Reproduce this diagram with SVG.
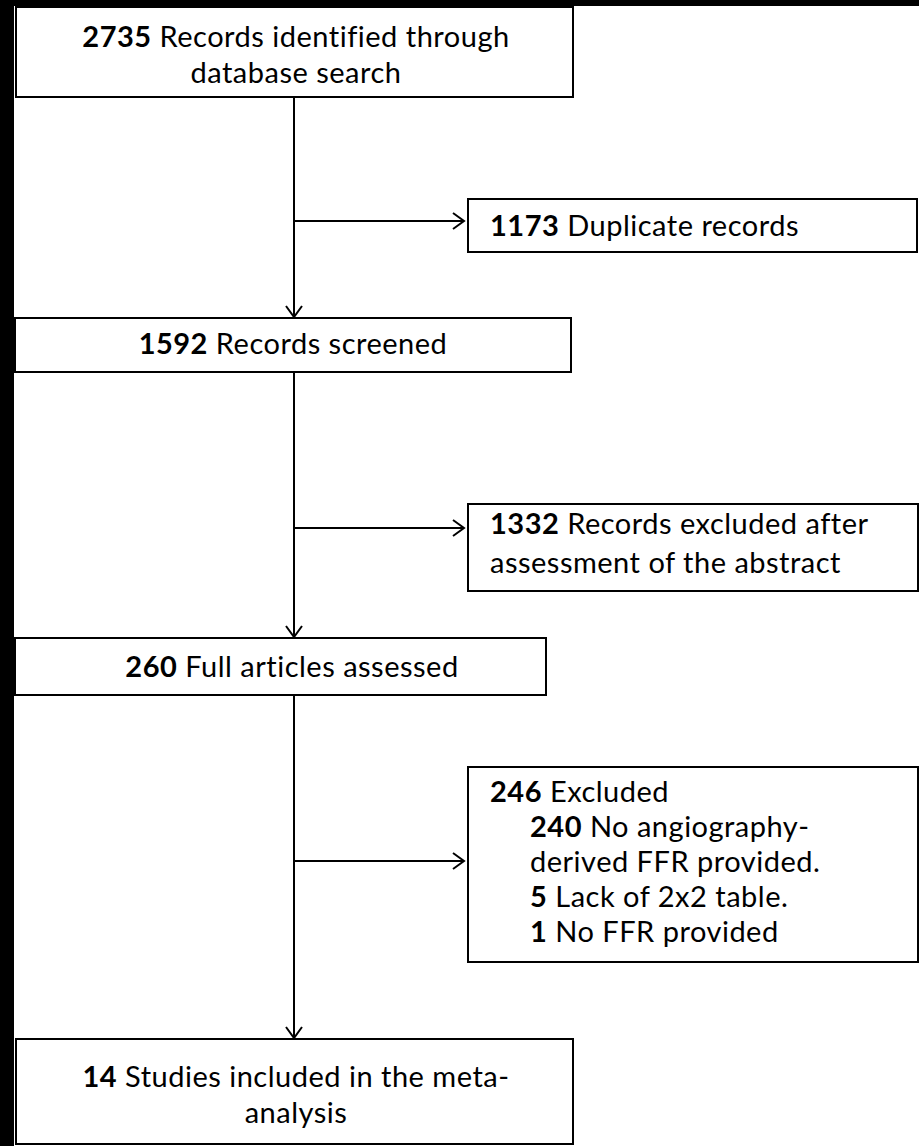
<svg xmlns="http://www.w3.org/2000/svg" width="919" height="1146" viewBox="0 0 919 1146">
<style>
.bg{fill:#fff}
.strip{fill:#000}
.box{fill:#fff;stroke:#000;stroke-width:2}
.t{font-family:Lato,"Liberation Sans",sans-serif;font-size:29px;fill:#000;letter-spacing:0.5px}
.b{font-weight:bold}
.c{stroke:#000;stroke-width:2;fill:none}
</style>
<defs>
<marker id="ah" markerWidth="14" markerHeight="20" refX="12" refY="10" orient="auto" markerUnits="userSpaceOnUse">
<path d="M1,2 L12,10 L1,18" fill="none" stroke="#000" stroke-width="2"/>
</marker>
</defs>
<rect class="bg" x="0" y="0" width="919" height="1146"/>
<rect class="strip" x="0" y="0" width="919" height="6"/>
<rect class="strip" x="0" y="0" width="14" height="1146"/>
<g id="connectors">
<path class="c" d="M294,97 V317" marker-end="url(#ah)"/>
<path class="c" d="M294,221 H464" marker-end="url(#ah)"/>
<path class="c" d="M294,372 V637" marker-end="url(#ah)"/>
<path class="c" d="M294,528 H464" marker-end="url(#ah)"/>
<path class="c" d="M294,695 V1038" marker-end="url(#ah)"/>
<path class="c" d="M294,861 H464" marker-end="url(#ah)"/>
</g>
<g id="n1">
<rect class="box" x="16" y="7" width="557" height="90"/>
<text class="t" x="296" y="47" text-anchor="middle"><tspan class="b">2735</tspan> Records identified through</text>
<text class="t" x="296" y="83" text-anchor="middle">database search</text>
</g>
<g id="n2">
<rect class="box" x="468" y="199" width="449" height="53"/>
<text class="t" x="490" y="236"><tspan class="b">1173</tspan> Duplicate records</text>
</g>
<g id="n3">
<rect class="box" x="15" y="318" width="556" height="54"/>
<text class="t" x="293" y="354" text-anchor="middle"><tspan class="b">1592</tspan> Records screened</text>
</g>
<g id="n4">
<rect class="box" x="468" y="504" width="450" height="87"/>
<text class="t" x="490" y="534"><tspan class="b">1332</tspan> Records excluded after</text>
<text class="t" x="490" y="573">assessment of the abstract</text>
</g>
<g id="n5">
<rect class="box" x="15" y="638" width="531" height="57"/>
<text class="t" x="292" y="677" text-anchor="middle"><tspan class="b">260</tspan> Full articles assessed</text>
</g>
<g id="n6">
<rect class="box" x="468" y="767" width="450" height="195"/>
<text class="t" x="490" y="802"><tspan class="b">246</tspan> Excluded</text>
<text class="t" x="530" y="837"><tspan class="b">240</tspan> No angiography-</text>
<text class="t" x="530" y="872">derived FFR provided.</text>
<text class="t" x="530" y="907"><tspan class="b">5</tspan> Lack of 2x2 table.</text>
<text class="t" x="530" y="942"><tspan class="b">1</tspan> No FFR provided</text>
</g>
<g id="n7">
<rect class="box" x="16" y="1039" width="557" height="105"/>
<text class="t" x="296" y="1087" text-anchor="middle"><tspan class="b">14</tspan> Studies included in the meta-</text>
<text class="t" x="296" y="1123" text-anchor="middle">analysis</text>
</g>
</svg>
